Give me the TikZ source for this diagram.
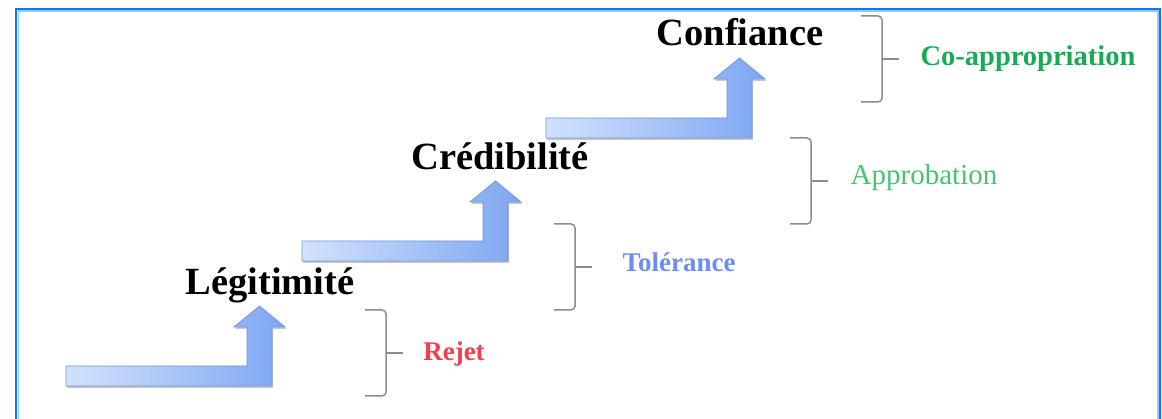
\documentclass[tikz,border=0pt]{standalone}
\usepackage{fontspec}
\setmainfont{Liberation Serif}
\usepackage{tikz}
\usetikzlibrary{shadows}
\definecolor{flecheclair}{RGB}{210,226,252}
\definecolor{flechefonce}{RGB}{126,166,242}
\definecolor{flechebord}{RGB}{112,150,222}
\definecolor{cadre}{RGB}{0,122,255}
\definecolor{cadreclair}{RGB}{150,200,255}
\definecolor{rouge}{RGB}{245,62,75}
\definecolor{bleu}{RGB}{110,140,245}
\definecolor{vert}{RGB}{25,170,85}
\definecolor{vertclair}{RGB}{70,195,115}
\tikzstyle{fleche}=[draw=flechebord, line width=0.8, left color=flecheclair, right color=flechefonce, drop shadow={shadow xshift=1.2pt, shadow yshift=-1.8pt, opacity=0.45, fill=gray}]
\tikzstyle{etape}=[font=\fontsize{38.5}{46}\selectfont\bfseries, anchor=base, inner sep=0pt]
\tikzstyle{niveau}=[font=\fontsize{27}{32}\selectfont\bfseries, anchor=base, inner sep=0pt]
\tikzstyle{accolade}=[draw=gray!90, line width=1.5, rounded corners=4]
\tikzset{
  marche/.pic={\path[fleche] (0,0) -- (-206,0) -- (-206,20) -- (-25,20) -- (-25,59) -- (-38,59) -- (-12.5,80) -- (13,59) -- (0,59) -- cycle;},
  crochet/.pic={\draw[accolade] (-21,43) -- (0,43) -- (0,-43) -- (-21,-43); \draw[accolade] (0,0) -- (17,0);}
}

\begin{document}
\begin{tikzpicture}[x=1pt, y=1pt]
            \useasboundingbox (0,0) rectangle (1162,419);
            % cadre
            \draw[cadreclair, line width=1.5] (18.5,-5) -- (18.5,408) -- (1158,408) -- (1158,-5);
            \draw[cadre, line width=2] (16,-5) -- (16,410) -- (1160,410) -- (1160,-5);

            % marches
            \coordinate (f1) at (272,33);
            \coordinate (f2) at (508,158);
            \coordinate (f3) at (752,281);
            \pic at (f1) {marche};
            \pic at (f2) {marche};
            \pic at (f3) {marche};

            % étapes
            \node[etape] (leg) at (270,124) {Légitimité};
            \node[etape] (cred) at (500,249) {Crédibilité};
            \node[etape] (conf) at (740,373) {Confiance};

            % accolades
            \coordinate (a1) at (386,66);
            \coordinate (a2) at (575,152);
            \coordinate (a3) at (811,238);
            \coordinate (a4) at (882,360);
            \pic at (a1) {crochet};
            \pic at (a2) {crochet};
            \pic at (a3) {crochet};
            \pic at (a4) {crochet};

            % niveaux
            \node[niveau, text=rouge] (rejet) at (454,58) {Rejet};
            \node[niveau, text=bleu] (tol) at (679,147) {Tolérance};
            \node[niveau, text=vertclair, font=\fontsize{29}{34}\selectfont\mdseries] (appro) at (924,234) {Approbation};
            \node[niveau, text=vert, font=\fontsize{28.5}{34}\selectfont\bfseries] (coappro) at (1028,353) {Co-appropriation};
        \end{tikzpicture}
\end{document}
